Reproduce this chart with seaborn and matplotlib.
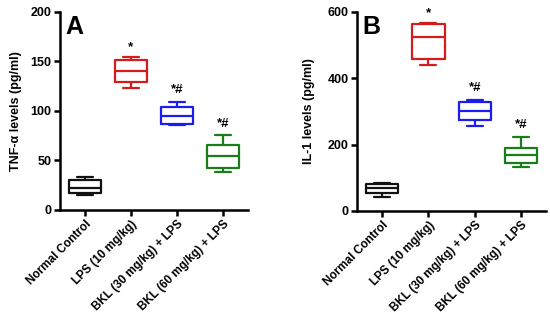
import pandas as pd
import numpy as np
import matplotlib.pyplot as plt
import seaborn as sns

# groups and colours
groups = ['Normal Control', 'LPS (10 mg/kg)', 'BKL (30 mg/kg) + LPS', 'BKL (60 mg/kg) + LPS']
colors = ['#111111', '#d41c1c', '#1c1cf0', '#1a7d1a']

# min, q1, median, q3, max
tnf_normal = [15, 17, 22, 30, 33]
tnf_lps = [123, 129, 140, 151, 154]
tnf_bkl30 = [86, 87, 95, 104, 109]
tnf_bkl60 = [38, 42, 55, 66, 76]

il1_normal = [42, 54, 69, 81, 84]
il1_lps = [440, 458, 524, 564, 567]
il1_bkl30 = [256, 274, 301, 329, 335]
il1_bkl60 = [131, 145, 169, 190, 224]

# significance marks (group index, label, y position)
tnf_marks = [(1, '*', 158), (2, '*#', 115), (3, '*#', 81)]
il1_marks = [(1, '*', 578), (2, '*#', 352), (3, '*#', 240)]

sns.set_style("ticks")
plt.rcParams['font.family'] = ['Liberation Sans', 'DejaVu Sans']
plt.rcParams['font.weight'] = 'bold'
for k in ['text.color', 'axes.labelcolor', 'xtick.color', 'ytick.color', 'axes.edgecolor']:
    plt.rcParams[k] = 'black'


def make_df(vals):
    rows = []
    for g, v in zip(groups, vals):
        for x in v:
            rows.append({'group': g, 'value': x})
    return pd.DataFrame(rows)


df_tnf = make_df([tnf_normal, tnf_lps, tnf_bkl30, tnf_bkl60])
df_il1 = make_df([il1_normal, il1_lps, il1_bkl30, il1_bkl60])

fig = plt.figure(figsize=(5.5, 3.23), dpi=100)
ax1 = fig.add_axes([0.109, 0.35, 0.342, 0.613])
ax2 = fig.add_axes([0.649, 0.347, 0.344, 0.616])


def panel(ax, df, marks, ymax, yticks, ylabel, letter, pad):
    sns.boxplot(data=df, x='group', y='value', hue='group', palette=colors,
                fill=False, whis=(0, 100), width=0.7, linewidth=1.6,
                legend=False, ax=ax)
    for i, txt, yv in marks:
        ax.text(i, yv, txt, ha='center', va='bottom', fontsize=9.5, fontweight='bold')
    ax.set_ylim(0, ymax)
    ax.set_yticks(yticks)
    ax.set_xlim(-0.54, 3.54)
    ax.set_xlabel('')
    ax.set_ylabel(ylabel, fontsize=9, fontweight='bold', labelpad=pad)
    ax.set_xticks(range(4))
    ax.set_xticklabels(groups, rotation=45, ha='right', rotation_mode='anchor',
                       fontsize=8.5, fontweight='bold')
    for lab in ax.get_yticklabels():
        lab.set_fontweight('bold')
        lab.set_fontsize(9)
    sns.despine(ax=ax)
    ax.spines['left'].set_linewidth(1.8)
    ax.spines['bottom'].set_linewidth(1.8)
    ax.tick_params(width=1.8, length=4, pad=2)
    ax.text(0.03, 0.985, letter, transform=ax.transAxes, fontsize=18,
            fontweight='bold', va='top', ha='left')


panel(ax1, df_tnf, tnf_marks, 200, [0, 50, 100, 150, 200], 'TNF-α levels (pg/ml)', 'A', 6)
panel(ax2, df_il1, il1_marks, 600, [0, 200, 400, 600], 'IL-1 levels (pg/ml)', 'B', 9)

fig.savefig('out.png', dpi=100)
